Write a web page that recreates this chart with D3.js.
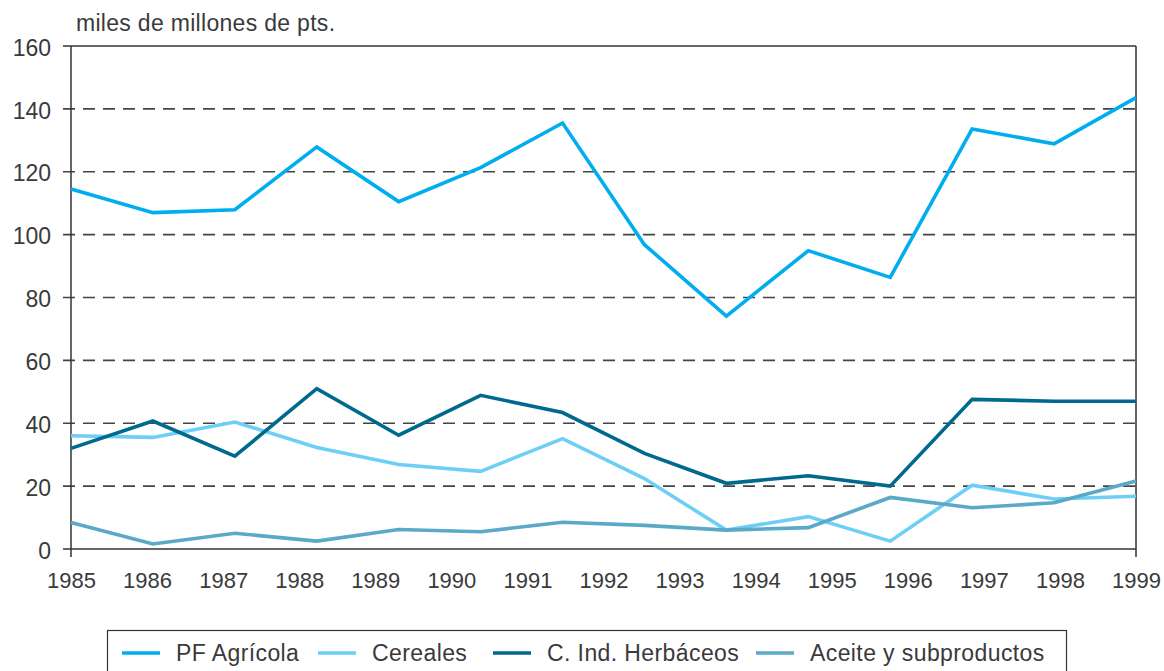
<!DOCTYPE html>
<html><head><meta charset="utf-8">
<script src="https://cdn.jsdelivr.net/npm/d3@7"></script>
<style>
html,body{margin:0;padding:0;background:#fff;}
svg{display:block;font-family:"Liberation Sans",Arial,sans-serif;}
</style></head>
<body><svg id="c" width="1164" height="671"></svg>
<script>
const yearLabels = ["1985","1986","1987","1988","1989","1990","1991","1992","1993","1994","1995","1996","1997","1998","1999"];
const yTicks = [0,20,40,60,80,100,120,140,160];
const seriesNames = ["PF Agrícola","Cereales","C. Ind. Herbáceos","Aceite y subproductos"];
const seriesColors = ["#00aeef","#6dcff6","#006a8e","#5aa9c7"];
const pfAgricola = [114.5,107.0,107.9,127.9,110.5,121.3,135.5,96.8,74.1,94.9,86.4,133.6,128.9,143.6];
const cereales   = [36.0,35.5,40.4,32.3,26.9,24.7,35.1,22.4,6.0,10.3,2.5,20.3,15.9,16.8];
const cIndHerb   = [32.0,40.7,29.5,51.0,36.2,48.9,43.4,30.4,20.9,23.3,20.0,47.6,47.0,47.0];
const aceite     = [8.4,1.6,5.0,2.5,6.2,5.5,8.5,7.5,6.0,6.8,16.4,13.1,14.7,21.6];
const seriesValues = [pfAgricola, cereales, cIndHerb, aceite];

const svg = d3.select("#c");
const L = 71, R = 1136, T = 46, B = 549;
const x = d3.scaleLinear().domain([0, pfAgricola.length - 1]).range([L, R]);
const xYear = d3.scaleLinear().domain([0, yearLabels.length - 1]).range([L, R]);
const y = d3.scaleLinear().domain([0, 160]).range([B, T]);
const ink = "#333";
const txt = "#3a3a3a";

// dashed gridlines
svg.append("g").selectAll("line").data(yTicks.filter(v => v > 0 && v < 160)).join("line")
  .attr("x1", L - 8).attr("x2", R).attr("y1", d => y(d)).attr("y2", d => y(d))
  .attr("stroke", "#444").attr("stroke-width", 1.6).attr("stroke-dasharray", "12,8");

// frame: top and right
svg.append("line").attr("x1", L - 8).attr("x2", R).attr("y1", y(160)).attr("y2", y(160))
  .attr("stroke", ink).attr("stroke-width", 1.5);
svg.append("line").attr("x1", R).attr("x2", R).attr("y1", y(160)).attr("y2", B + 8)
  .attr("stroke", ink).attr("stroke-width", 1.5);

// y axis
const yAxis = d3.axisLeft(y).tickValues(yTicks).tickSize(8).tickPadding(12).tickFormat(d3.format("d"));
const gy = svg.append("g").attr("transform", `translate(${L},0)`).call(yAxis);
gy.select(".domain").attr("stroke", ink).attr("stroke-width", 1.5).attr("d", `M0,${T}V${B + 8}`);
gy.selectAll(".tick line").attr("stroke", "none");
gy.selectAll(".tick text").attr("font-size", 23).attr("fill", txt).attr("dy", "0.4em")
  .attr("font-family", "Liberation Sans, Arial, sans-serif");

// x axis
const xAxis = d3.axisBottom(xYear).tickValues(d3.range(yearLabels.length)).tickSize(0).tickPadding(23)
  .tickFormat(i => yearLabels[i]);
const gx = svg.append("g").attr("transform", `translate(0,${B})`).call(xAxis);
gx.select(".domain").attr("stroke", ink).attr("stroke-width", 1.5).attr("d", `M${L - 8},0H${R}`);
gx.selectAll(".tick text").attr("font-size", 22).attr("fill", txt)
  .attr("font-family", "Liberation Sans, Arial, sans-serif");

// lines
const line = d3.line().x((d, i) => x(i)).y(d => y(d));
seriesValues.forEach((vals, k) => {
  svg.append("path").datum(vals).attr("d", line).attr("fill", "none")
    .attr("stroke", seriesColors[k]).attr("stroke-width", 3.6).attr("stroke-linejoin", "miter");
});

// unit label
svg.append("text").attr("x", 76).attr("y", 31).attr("font-size", 23).attr("letter-spacing", 0.3)
  .attr("fill", txt).text("miles de millones de pts.");

// legend
const lg = svg.append("g");
lg.append("rect").attr("x", 107.5).attr("y", 630.5).attr("width", 959).attr("height", 60)
  .attr("fill", "none").attr("stroke", ink).attr("stroke-width", 1.2);
const legX = [122, 318, 493, 756];
seriesNames.forEach((n, k) => {
  lg.append("line").attr("x1", legX[k]).attr("x2", legX[k] + 38).attr("y1", 653).attr("y2", 653)
    .attr("stroke", seriesColors[k]).attr("stroke-width", 3.6);
  lg.append("text").attr("x", legX[k] + 54).attr("y", 661).attr("font-size", 23).attr("letter-spacing", 0.4)
    .attr("fill", txt).text(n);
});
</script></body></html>
